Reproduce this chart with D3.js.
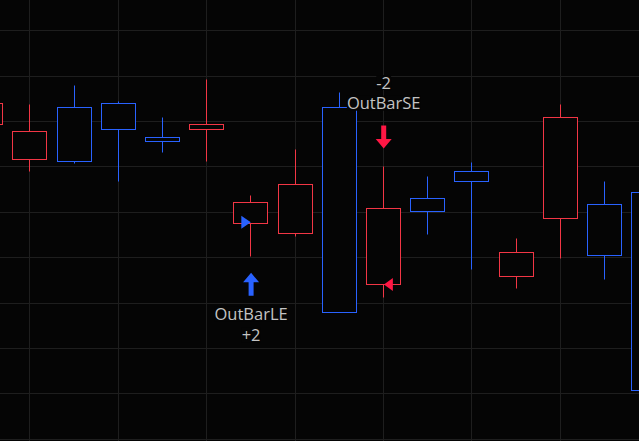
<!DOCTYPE html>
<html>
<head>
<meta charset="utf-8">
<script src="https://cdn.jsdelivr.net/npm/d3@7"></script>
<style>
  body { margin: 0; background: #050505; }
  svg { display: block; }
</style>
</head>
<body>
<svg class="chart"></svg>
<script>
// bar times (16 bars, first and last partly off screen)
let times = ['09:25', '09:30', '09:35', '09:40', '09:45', '09:50', '09:55', '10:00',
             '10:05', '10:10', '10:15', '10:20', '10:25', '10:30', '10:35', '10:40'];
let opens  = [107.39, 106.77, 106.11, 106.82, 106.55, 106.93, 105.21, 105.61,
              102.79, 105.08, 105.01, 105.69, 104.11, 107.08, 104.04, 101.07];
let highs  = [107.55, 107.38, 107.79, 107.44, 107.09, 107.93, 105.37, 106.38,
              107.63, 106.02, 105.79, 106.10, 104.42, 107.38, 105.68, 105.60];
let lows   = [106.80, 105.91, 106.08, 105.69, 106.32, 106.13, 104.03, 104.47,
              102.79, 103.13, 104.52, 103.75, 103.33, 103.99, 103.53, 100.90];
let closes = [106.93, 106.16, 107.30, 107.39, 106.64, 106.82, 104.76, 104.54,
              107.30, 103.40, 105.30, 105.89, 103.58, 104.86, 105.17, 105.43];

// price grid
let priceTicks = [100, 101, 102, 103, 104, 105, 106, 107, 108, 109];
// time grid (every other bar)
let timeTicks = ['09:30', '09:40', '09:50', '10:00', '10:10', '10:20', '10:30'];

// strategy signals
let signalBars   = [6, 9];
let signalNames  = ['OutBarLE', 'OutBarSE'];
let signalQty    = ['+2', '-2'];
let signalSide   = ['long', 'short'];
let signalPrices = [104.76, 103.40];

let upColor = '#2962ff';
let downColor = '#f23645';
let longColor = '#2962ff';
let shortColor = '#ff1744';
let gridColor = '#1e1e1e';
let bgColor = '#050505';
let textColor = '#c3c3c3';

let svg_width = 639;
let svg_height = 441;
let body_width = 34;

let svg = d3.select('.chart')
  .attr('width', svg_width)
  .attr('height', svg_height);

svg.append('rect')
  .attr('width', svg_width)
  .attr('height', svg_height)
  .attr('fill', bgColor);

let scaleX = d3.scalePoint()
  .domain(times)
  .range([-14.9, 648.1]);

let scaleY = d3.scaleLinear()
  .domain([100, 109])
  .range([438.7, 30.3]);

function px(v) { return Math.round(v) + 0.5; }

// grid
let axisY = d3.axisLeft(scaleY).tickValues(priceTicks).tickSize(-svg_width).tickFormat('');
let axisX = d3.axisBottom(scaleX).tickValues(timeTicks).tickSize(-svg_height).tickFormat('');

function customGrid(g) {
  g.select('.domain').remove();
  g.selectAll('.tick line').attr('stroke', gridColor).attr('stroke-width', 1);
}

svg.append('g')
  .attr('class', 'y-grid')
  .call(axisY)
  .call(customGrid)
  .selectAll('.tick')
  .attr('transform', d => 'translate(0,' + px(scaleY(d)) + ')');

svg.append('g')
  .attr('class', 'x-grid')
  .attr('transform', 'translate(0,' + svg_height + ')')
  .call(axisX)
  .call(customGrid)
  .selectAll('.tick')
  .attr('transform', d => 'translate(' + px(scaleX(d)) + ',0)');

// candles
let candles = svg.selectAll('.candle')
  .data(times)
  .enter()
  .append('g')
  .attr('class', 'candle');

let colorOf = i => closes[i] >= opens[i] ? upColor : downColor;

candles.append('line')
  .attr('x1', (d, i) => px(scaleX(d)))
  .attr('x2', (d, i) => px(scaleX(d)))
  .attr('y1', (d, i) => px(scaleY(highs[i])))
  .attr('y2', (d, i) => px(scaleY(lows[i])))
  .attr('stroke', (d, i) => colorOf(i))
  .attr('stroke-width', 1);

candles.append('rect')
  .attr('x', d => px(scaleX(d) - body_width / 2))
  .attr('y', (d, i) => px(scaleY(Math.max(opens[i], closes[i]))))
  .attr('width', body_width)
  .attr('height', (d, i) => px(scaleY(Math.min(opens[i], closes[i]))) - px(scaleY(Math.max(opens[i], closes[i]))))
  .attr('fill', bgColor)
  .attr('stroke', (d, i) => colorOf(i))
  .attr('stroke-width', 1);

// signal arrows, entry markers and labels
signalBars.forEach((b, k) => {
  let cx = scaleX(times[b]) + 0.8;
  let isLong = signalSide[k] === 'long';
  let col = isLong ? longColor : shortColor;

  // arrow: shaft 5 wide, head 16 wide
  let y0 = isLong ? scaleY(lows[b]) + 17 : scaleY(highs[b]) - 17;
  let dir = isLong ? 1 : -1;
  let head = 9.5, len = 23;
  let pts = [
    [cx, y0],
    [cx + 8, y0 + dir * head],
    [cx + 2.5, y0 + dir * head],
    [cx + 2.5, y0 + dir * len],
    [cx - 2.5, y0 + dir * len],
    [cx - 2.5, y0 + dir * head],
    [cx - 8, y0 + dir * head]
  ];
  svg.append('path')
    .attr('d', d3.line()(pts) + 'Z')
    .attr('fill', col);

  // entry triangle on the bar
  let ty = scaleY(signalPrices[k]);
  let tx = scaleX(times[b]);
  let tri = isLong
    ? [[tx + 0.5, ty - 0.5], [tx - 9, ty - 7], [tx - 9, ty + 6]]
    : [[tx + 1, ty], [tx + 10, ty - 6.5], [tx + 10, ty + 6.5]];
  svg.append('path')
    .attr('d', d3.line()(tri) + 'Z')
    .attr('fill', col);

  // labels
  let lines = isLong ? [signalNames[k], signalQty[k]] : [signalQty[k], signalNames[k]];
  let base = isLong ? y0 + dir * len + 24.3 : y0 + dir * len - 16.3;
  let firstBase = isLong ? base : base - 20.7;
  lines.forEach((t, j) => {
    let yb = firstBase + j * 20.7;
    let txt = svg.append('text')
      .text(t)
      .attr('x', cx)
      .attr('y', yb)
      .attr('text-anchor', 'middle')
      .attr('font-family', '"Open Sans", sans-serif')
      .attr('font-size', '16.5px')
      .attr('fill', textColor);
    let bb = txt.node().getBBox();
    svg.insert('rect', () => txt.node())
      .attr('x', bb.x)
      .attr('y', yb - 13.5)
      .attr('width', bb.width)
      .attr('height', 15)
      .attr('fill', bgColor);
  });
});
</script>
</body>
</html>
